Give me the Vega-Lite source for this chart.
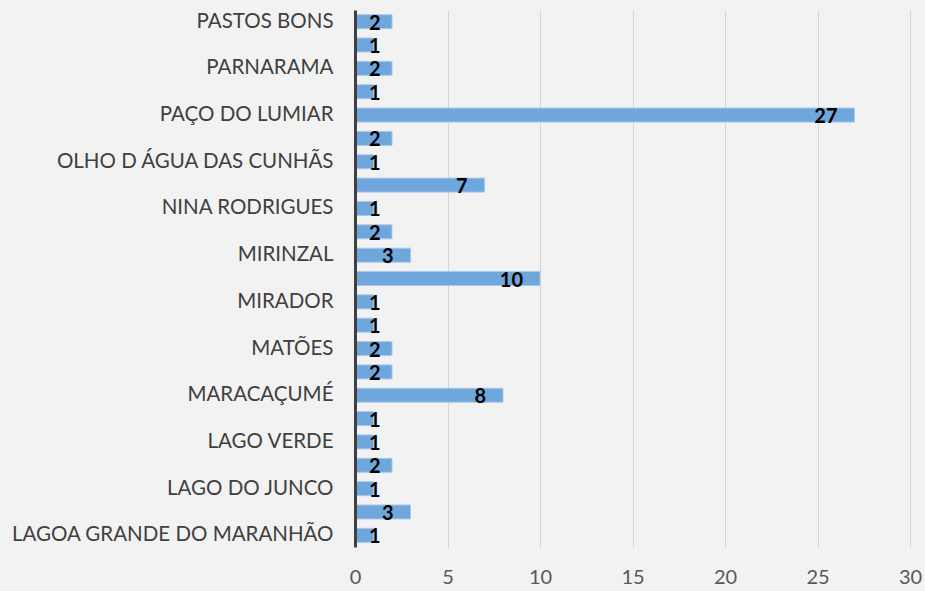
{
  "$schema": "https://vega.github.io/schema/vega-lite/v6.json",
  "width": 555,
  "height": 537,
  "autosize": {"type": "none"},
  "padding": {"left": 355, "top": 10, "right": 15, "bottom": 44},
  "background": "#f2f2f2",
  "config": {"view": {"stroke": null}, "font": "Lato"},
  "data": {"values": [
    {"municipio": "PASTOS BONS", "n": 2},
    {"municipio": "PASSAGEM FRANCA", "n": 1},
    {"municipio": "PARNARAMA", "n": 2},
    {"municipio": "PARAIBANO", "n": 1},
    {"municipio": "PAÇO DO LUMIAR", "n": 27},
    {"municipio": "OLINDA NOVA DO MARANHÃO", "n": 2},
    {"municipio": "OLHO D ÁGUA DAS CUNHÃS", "n": 1},
    {"municipio": "NOVA OLINDA DO MARANHÃO", "n": 7},
    {"municipio": "NINA RODRIGUES", "n": 1},
    {"municipio": "MORROS", "n": 2},
    {"municipio": "MIRINZAL", "n": 3},
    {"municipio": "MIRANDA DO NORTE", "n": 10},
    {"municipio": "MIRADOR", "n": 1},
    {"municipio": "MATÕES DO NORTE", "n": 1},
    {"municipio": "MATÕES", "n": 2},
    {"municipio": "MATA ROMA", "n": 2},
    {"municipio": "MARACAÇUMÉ", "n": 8},
    {"municipio": "MAGALHÃES DE ALMEIDA", "n": 1},
    {"municipio": "LAGO VERDE", "n": 1},
    {"municipio": "LAGO DOS RODRIGUES", "n": 2},
    {"municipio": "LAGO DO JUNCO", "n": 1},
    {"municipio": "LAGO DA PEDRA", "n": 3},
    {"municipio": "LAGOA GRANDE DO MARANHÃO", "n": 1}
  ]},
  "encoding": {
    "y": {
      "field": "municipio", "type": "nominal", "sort": null,
      "scale": {"paddingInner": 0.4, "paddingOuter": 0.2},
      "axis": {
        "title": null, "ticks": false, "domainColor": "#404040", "domainWidth": 3, "zindex": 1,
        "labelFontSize": 20.5, "labelColor": "#404040", "labelPadding": 22, "labelLimit": 0,
        "labelExpr": "indexof(['PASTOS BONS','PARNARAMA','PAÇO DO LUMIAR','OLHO D ÁGUA DAS CUNHÃS','NINA RODRIGUES','MIRINZAL','MIRADOR','MATÕES','MARACAÇUMÉ','LAGO VERDE','LAGO DO JUNCO','LAGOA GRANDE DO MARANHÃO'], datum.label) >= 0 ? datum.label : ''"
      }
    }
  },
  "layer": [
    {
      "mark": {"type": "bar", "color": "#6fa7dc", "stroke": "#a8c9ec", "strokeWidth": 1},
      "encoding": {
        "x": {
          "field": "n", "type": "quantitative",
          "scale": {"domain": [0, 30]},
          "axis": {
            "title": null, "values": [0, 5, 10, 15, 20, 25, 30], "domain": false, "ticks": false,
            "grid": true, "gridColor": "#d4d4d4", "gridWidth": 1, "labelFlush": false,
            "labelFontSize": 20, "labelColor": "#595959", "labelPadding": 20
          }
        }
      }
    },
    {
      "transform": [{"calculate": "max(datum.n, 2.3)", "as": "lx"}],
      "mark": {"type": "text", "align": "right", "baseline": "middle", "dx": -17, "dy": 2, "fontSize": 20, "fontWeight": "bold", "color": "#000000"},
      "encoding": {
        "x": {"field": "lx", "type": "quantitative"},
        "text": {"field": "n", "type": "quantitative"}
      }
    }
  ]
}
